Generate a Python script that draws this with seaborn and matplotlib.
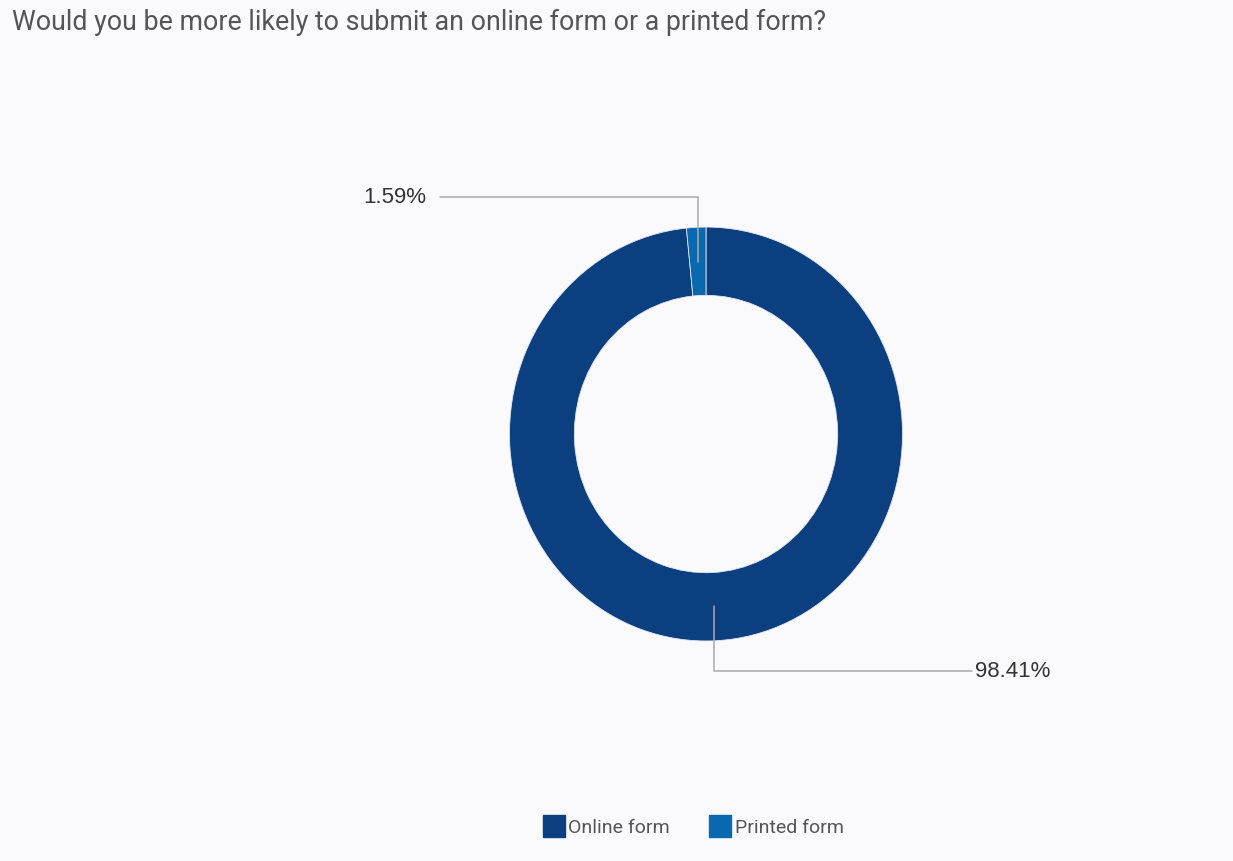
import matplotlib.pyplot as plt
import numpy as np
import seaborn as sns
from matplotlib.lines import Line2D

# Survey answers and their shares (percent)
answers = ["Online form", "Printed form"]
shares = [98.41, 1.59]
colors = ["#0b3f80", "#0a69ae"]

title = "Would you be more likely to submit an online form or a printed form?"

sns.set_theme(style="white")
plt.rcParams["font.family"] = ["Roboto", "DejaVu Sans"]

bg = "#fafafc"
fig = plt.figure(figsize=(12.33, 8.61), dpi=100, facecolor=bg)
ax = fig.add_axes([0, 0, 1, 1])
ax.set_facecolor(bg)

wedges, _ = ax.pie(
    shares,
    colors=colors,
    startangle=90,
    counterclock=False,
    radius=1,
    wedgeprops={"width": 0.33, "edgecolor": "#dfe6ef", "linewidth": 0.6},
)

# Screenshot is slightly stretched vertically, so keep the aspect free
ax.set_aspect("auto")
ax.set_xlim(-3.593, 2.682)
ax.set_ylim(-2.063, 2.097)
ax.axis("off")

# Leader lines with elbows and percentage labels
for w, share in zip(wedges, shares):
    mid = np.deg2rad((w.theta1 + w.theta2) / 2)
    x0, y0 = 0.83 * np.cos(mid), 0.83 * np.sin(mid)
    side = 1 if np.sin(mid) > 0 else -1
    y1 = 1.145 * side
    x1 = -1.354 if side > 0 else 1.354
    ax.plot([x0, x0, x1], [y0, y1, y1], color="#aaaaaa", lw=1.1,
            solid_joinstyle="miter", zorder=3)
    if side > 0:
        ax.text(x1 - 0.07, y1, f"{share:.2f}%", ha="right", va="center",
                fontsize=16, color="#333333", family=["Liberation Sans"])
    else:
        ax.text(x1 + 0.015, y1, f"{share:.2f}%", ha="left", va="center",
                fontsize=16, color="#333333", family=["Liberation Sans"])

fig.text(12 / 1233, 1 - 22 / 861, title, ha="left", va="center",
         fontsize=19.3, color="#555555")

handles = [
    Line2D([], [], marker="s", linestyle="", markersize=16,
           markerfacecolor=c, markeredgecolor=c)
    for c in colors
]
fig.legend(handles, answers, loc="center", bbox_to_anchor=(0.562, 1 - 828 / 861),
           ncol=2, frameon=False, fontsize=14, handletextpad=0.15,
           columnspacing=2.0, labelcolor="#555555", handlelength=1.2)

plt.savefig("out.png", dpi=100, facecolor=bg)
